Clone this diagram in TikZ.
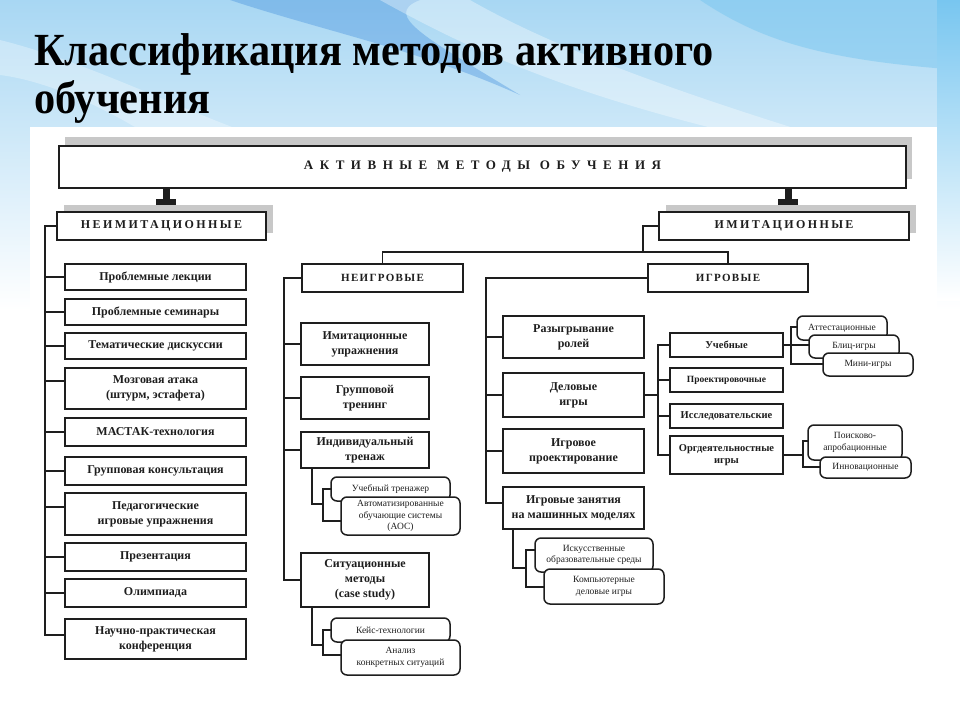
\documentclass[tikz,border=0pt]{standalone}
\usepackage{fontspec}
\setmainfont{Liberation Serif}
\newfontfamily\titlefont[FakeStretch=0.92]{Liberation Serif}
\newfontfamily\headfont[LetterSpace=50]{Liberation Serif}
\newfontfamily\capsfont[LetterSpace=20]{Liberation Serif}
\newfontfamily\smcapsfont[LetterSpace=12]{Liberation Serif}
\usetikzlibrary{calc}
\definecolor{bgA}{RGB}{168,215,243}
\definecolor{bgB}{RGB}{55,135,220}
\definecolor{bgC}{RGB}{120,198,240}
\definecolor{ink}{RGB}{30,30,30}
\definecolor{shadowgray}{RGB}{200,200,200}
\tikzset{
  box/.style={draw=ink, line width=1.8pt, fill=white, inner sep=1pt, align=center,
    text=ink, font=\bfseries\fontsize{12}{15}\selectfont},
  rbox/.style={draw=ink, line width=1.5pt, fill=white, rounded corners=6pt, inner sep=1pt,
    align=center, text=ink, font=\fontsize{9.5}{11.5}\selectfont},
  sbox/.style={box, font=\bfseries\fontsize{10.5}{12.5}\selectfont},
  conn/.style={draw=ink, line width=1.8pt},
  shadowfill/.style={fill=shadowgray}
}
\begin{document}
\begin{tikzpicture}[x=1pt,y=-1pt]
\useasboundingbox (0,0) rectangle (960,720);
% ---------- background ----------
\fill[white] (0,0) rectangle (960,720);
\shade[top color=bgA, bottom color=white] (0,0) rectangle (960,310);
\fill[bgB, opacity=0.35] (230,0) .. controls (320,30) and (420,50) .. (520,95)
   .. controls (430,40) and (380,15) .. (420,0) -- cycle;
\fill[white, opacity=0.35] (380,0) .. controls (470,50) and (560,90) .. (720,130)
   -- (800,130) .. controls (640,80) and (540,40) .. (470,0) -- cycle;
\fill[bgC, opacity=0.5] (700,0) .. controls (760,40) and (820,60) .. (960,70)
   -- (960,0) -- cycle;
\shade[top color=bgC, bottom color=white] (937,0) rectangle (960,300);
\fill[white, opacity=0.3] (0,40) .. controls (80,60) and (160,100) .. (240,130)
   -- (140,130) .. controls (90,100) and (40,80) .. (0,75) -- cycle;
\fill[white] (30,127) rectangle (937,720);
% ---------- title ----------
\node[anchor=base west, inner sep=0, text=black,
  font=\titlefont\bfseries\fontsize{46}{50}\selectfont] (title1) at (34,65)
  {Классификация методов активного};
\node[anchor=base west, inner sep=0, text=black,
  font=\titlefont\bfseries\fontsize{46}{50}\selectfont] (title2) at (34,113)
  {обучения};
% ---------- main header ----------
\fill[shadowfill] (65,137) rectangle (912,179);
\node[box, minimum width=847, minimum height=42, font=\headfont\bfseries\fontsize{13}{15}\selectfont]
  (main) at (482.5,167) {АКТИВНЫЕ МЕТОДЫ ОБУЧЕНИЯ};
% stubs
\fill[ink] (162.5,188) rectangle (169.5,200);
\fill[ink] (156,199) rectangle (176,205);
\fill[ink] (784.5,188) rectangle (791.5,200);
\fill[ink] (778,199) rectangle (798,205);
% ---------- second level ----------
\fill[shadowfill] (64,205) rectangle (273,233);
\fill[shadowfill] (666,205) rectangle (916,233);
\node[box, minimum width=209, minimum height=28, font=\capsfont\bfseries\fontsize{12}{14}\selectfont]
  (neim) at (161.5,226) {НЕИМИТАЦИОННЫЕ};
\node[box, minimum width=250, minimum height=28, font=\capsfont\bfseries\fontsize{12}{14}\selectfont]
  (imit) at (784,226) {ИМИТАЦИОННЫЕ};
% ---------- third level ----------
\node[box, minimum width=161, minimum height=28, font=\smcapsfont\bfseries\fontsize{11}{13}\selectfont]
  (neigr) at (382.5,278) {НЕИГРОВЫЕ};
\node[box, minimum width=160, minimum height=28, font=\smcapsfont\bfseries\fontsize{11}{13}\selectfont]
  (igr) at (728,278) {ИГРОВЫЕ};
\coordinate (br) at (643,252);
\draw[conn] (imit.west) -| (br);
\draw[conn] (neigr.north) |- (br) -| (igr.north);
% ---------- left column ----------
\coordinate (spL) at (45,0);
\node[box, minimum width=181, minimum height=26] (l1) at (155.5,277) {Проблемные лекции};
\node[box, minimum width=181, minimum height=26] (l2) at (155.5,312) {Проблемные семинары};
\node[box, minimum width=181, minimum height=26] (l3) at (155.5,346) {Тематические дискуссии};
\node[box, minimum width=181, minimum height=41] (l4) at (155.5,388.5) {Мозговая атака\\(штурм, эстафета)};
\node[box, minimum width=181, minimum height=28] (l5) at (155.5,432) {МАСТАК-технология};
\node[box, minimum width=181, minimum height=28] (l6) at (155.5,471) {Групповая консультация};
\node[box, minimum width=181, minimum height=42] (l7) at (155.5,514) {Педагогические\\игровые упражнения};
\node[box, minimum width=181, minimum height=28] (l8) at (155.5,557) {Презентация};
\node[box, minimum width=181, minimum height=28] (l9) at (155.5,593) {Олимпиада};
\node[box, minimum width=181, minimum height=40] (l10) at (155.5,639) {Научно-практическая\\конференция};
\coordinate (lend) at ([yshift=4pt]l10.west);
\draw[conn] (neim.west) -| (lend -| spL) -- (lend);
\foreach \n in {l1,l2,l3,l5,l6,l8,l9}{
  \draw[conn] (\n.west) -- (\n.west -| spL);
}
\draw[conn] ([yshift=7.5pt]l4.west) -- ([yshift=7.5pt]l4.west -| spL);
\draw[conn] ([yshift=7pt]l7.west) -- ([yshift=7pt]l7.west -| spL);
% ---------- middle column (non-game) ----------
\coordinate (spM) at (284,0);
\node[box, minimum width=128, minimum height=42] (m1) at (365,344) {Имитационные\\упражнения};
\node[box, minimum width=128, minimum height=42] (m2) at (365,398) {Групповой\\тренинг};
\node[box, minimum width=128, minimum height=36] (m3) at (365,450) {Индивидуальный\\тренаж};
\node[box, minimum width=128, minimum height=54] (m4) at (365,580) {Ситуационные\\методы\\(case study)};
\draw[conn] (neigr.west) -| (m4.west -| spM) -- (m4.west);
\foreach \n in {m1,m2,m3}{
  \draw[conn] (\n.west) -- (\n.west -| spM);
}
% subs of m3 and m4
\coordinate (j3) at (323,504);
\coordinate (j4) at (323,645);
\draw[conn] ([xshift=-53pt]m3.south) |- (j3);
\draw[conn] ([xshift=-53pt]m4.south) |- (j4);
\draw[conn] (331,489) -| (j3);
\draw[conn] (341,521) -| (j3);
\draw[conn] (331,630) -| (j4);
\draw[conn] (341,655) -| (j4);
\node[rbox, minimum width=119, minimum height=24] (s31) at (390.5,489) {Учебный тренажер};
\node[rbox, minimum width=119, minimum height=38] (s32) at (400.5,516) {Автоматизированные\\обучающие системы\\(АОС)};
\node[rbox, minimum width=119, minimum height=24] (s41) at (390.5,630) {Кейс-технологии};
\node[rbox, minimum width=119, minimum height=35] (s42) at (400.5,657.5) {Анализ\\конкретных ситуаций};
% ---------- game column ----------
\coordinate (spR) at (486,0);
\node[box, minimum width=141, minimum height=42] (r1) at (573.5,337) {Разыгрывание\\ролей};
\node[box, minimum width=141, minimum height=44] (r2) at (573.5,395) {Деловые\\игры};
\node[box, minimum width=141, minimum height=44] (r3) at (573.5,451) {Игровое\\проектирование};
\node[box, minimum width=141, minimum height=42] (r4) at (573.5,508) {Игровые занятия\\на машинных моделях};
\coordinate (rend) at ([yshift=5pt]r4.west);
\draw[conn] (igr.west) -| (rend -| spR) -- (rend);
\foreach \n in {r1,r2,r3}{
  \draw[conn] (\n.west) -- (\n.west -| spR);
}
\coordinate (j5) at (526,568);
\draw[conn] ([xshift=-60.5pt]r4.south) |- (j5);
\draw[conn] (535,550) -| (j5);
\draw[conn] (544,587) -| (j5);
\node[rbox, minimum width=118, minimum height=34] (s51) at (594,555) {Искусственные\\образовательные среды};
\node[rbox, minimum width=120, minimum height=35] (s52) at (604,586.5) {Компьютерные\\деловые игры};
% ---------- business games ----------
\coordinate (jd) at (658,395);
\node[sbox, minimum width=113, minimum height=24] (g1) at (726.5,345) {Учебные};
\node[sbox, minimum width=113, minimum height=24, font=\bfseries\fontsize{9.5}{11}\selectfont] (g2) at (726.5,380) {Проектировочные};
\node[sbox, minimum width=113, minimum height=24] (g3) at (726.5,416) {Исследовательские};
\node[sbox, minimum width=113, minimum height=38] (g4) at (726.5,455) {Оргдеятельностные\\игры};
\draw[conn] (r2.east) -- (jd);
\draw[conn] (g1.west) -| (jd);
\draw[conn] (g4.west) -| (jd);
\draw[conn] (g2.west) -- (g2.west -| jd);
\draw[conn] (g3.west) -- (g3.west -| jd);
% subs of g1
\coordinate (ju) at (791,345);
\draw[conn] (g1.east) -- (ju);
\draw[conn] (797,327) -| (ju);
\draw[conn] (823,364) -| (ju);
\draw[conn] (809,345) -- (ju);
\node[rbox, minimum width=90, minimum height=24] (a1) at (842,328) {Аттестационные};
\node[rbox, minimum width=90, minimum height=23] (a2) at (854,346.5) {Блиц-игры};
\node[rbox, minimum width=90, minimum height=23] (a3) at (868,364.5) {Мини-игры};
% subs of g4
\coordinate (jo) at (803,455);
\draw[conn] (g4.east) -- (jo);
\draw[conn] (808,441) -| (jo);
\draw[conn] (820,467) -| (jo);
\node[rbox, minimum width=94, minimum height=35] (o1) at (855,442.5) {Поисково-\\апробационные};
\node[rbox, minimum width=91, minimum height=21] (o2) at (865.5,467.5) {Инновационные};
\end{tikzpicture}
\end{document}
